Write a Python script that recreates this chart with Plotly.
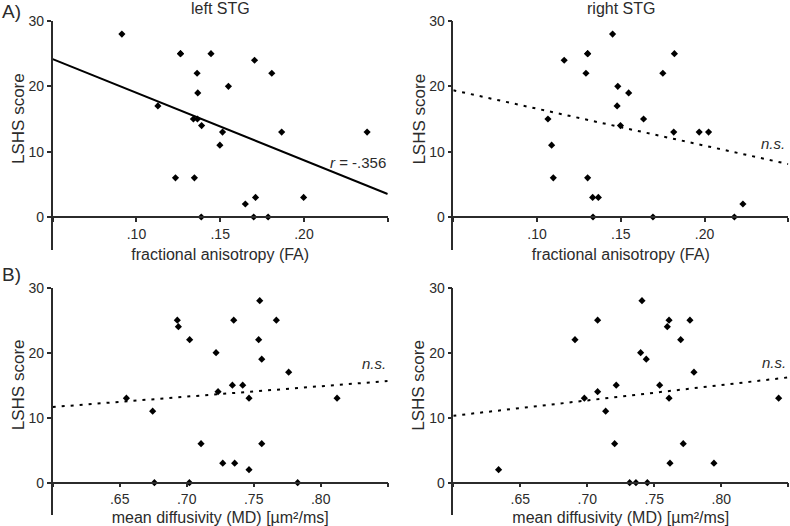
import plotly.graph_objects as go

# ---------------- data ----------------
lshs = [28, 25, 25, 25, 24, 22, 22, 20, 19, 17, 15, 15, 14, 13, 13, 13, 11, 6, 6, 3, 3, 2, 0, 0, 0]

fa_left = [0.0913, 0.1263, 0.1263, 0.1445, 0.1705, 0.1362, 0.1808, 0.1549, 0.1366, 0.1128,
           0.1340, 0.1364, 0.1389, 0.1514, 0.1867, 0.2377, 0.1498, 0.1233, 0.1346, 0.1711,
           0.1998, 0.1650, 0.1387, 0.1700, 0.1786]
fa_right = [0.1451, 0.1302, 0.1302, 0.1820, 0.1162, 0.1292, 0.1751, 0.1482, 0.1547, 0.1478,
            0.1065, 0.1636, 0.1498, 0.1816, 0.1968, 0.2024, 0.1087, 0.1097, 0.1302, 0.1332,
            0.1366, 0.2229, 0.1334, 0.1692, 0.2178]
md_left = [0.7545, 0.6930, 0.7351, 0.7669, 0.6938, 0.7022, 0.7537, 0.7219, 0.7560, 0.7761,
           0.7341, 0.7418, 0.7234, 0.6550, 0.7465, 0.8122, 0.6746, 0.7107, 0.7560, 0.7269,
           0.7358, 0.7465, 0.6759, 0.7020, 0.7828]
md_right = [0.7408, 0.7077, 0.7610, 0.7766, 0.7597, 0.6908, 0.7697, 0.7398, 0.7440, 0.7796,
            0.7216, 0.7540, 0.7077, 0.6978, 0.7610, 0.8428, 0.7137, 0.7204, 0.7716, 0.7617,
            0.7945, 0.6338, 0.7316, 0.7363, 0.7448]

fa_fit_x = [0.05, 0.25]
fa_left_fit_y = [24.17, 3.53]
fa_right_fit_y = [19.4, 8.1]
md_fit_x = [0.60, 0.85]
md_left_fit_y = [11.64, 15.64]
md_right_fit_y = [10.3, 16.2]

fa_tickvals = [0.05, 0.10, 0.15, 0.20, 0.25]
fa_ticktext = ["", ".10", ".15", ".20", ""]
md_tickvals = [0.60, 0.65, 0.70, 0.75, 0.80, 0.85]
md_ticktext = ["", ".65", ".70", ".75", ".80", ""]
y_tickvals = [0, 10, 20, 30]

panel_titles = ["left STG", "right STG"]
fa_title = "fractional anisotropy (FA)"
md_title = "mean diffusivity (MD) [µm²/ms]"
y_title = "LSHS score"

# ---------------- style ----------------
FONT = "Liberation Sans, Arial, sans-serif"
TXT = "#2b2b2b"
LINE = "#2b2b2b"
W, H = 790, 526

def px_x(p):
    return p / W

def px_y(p):
    return 1 - p / H

# horizontal domains (pixels)
col_dom = [(52.7, 387.7), (453.3, 788.3)]
# rows: (pixel of y=30, pixel of y=-5, pixel of y=0)
row_dom = [(21.0, 249.7, 217.0), (287.7, 515.2, 482.7)]

fig = go.Figure()

panels = [
    (fa_left, fa_fit_x, fa_left_fit_y, "solid", 0, 0),
    (fa_right, fa_fit_x, fa_right_fit_y, "3px,6px", 0, 1),
    (md_left, md_fit_x, md_left_fit_y, "3px,6px", 1, 0),
    (md_right, md_fit_x, md_right_fit_y, "3px,6px", 1, 1),
]

layout = {}
annotations = []
for i, (xs, fx, fy, dash, r, c) in enumerate(panels):
    n = i + 1
    xa = "x" if n == 1 else f"x{n}"
    ya = "y" if n == 1 else f"y{n}"
    fig.add_trace(go.Scatter(x=fx, y=fy, mode="lines", xaxis=xa, yaxis=ya,
                             line=dict(color="black", width=2, dash=dash),
                             showlegend=False, hoverinfo="skip"))
    fig.add_trace(go.Scatter(x=xs, y=lshs, mode="markers", xaxis=xa, yaxis=ya,
                             marker=dict(symbol="diamond", size=5.5, color="black",
                                         line=dict(width=0)),
                             cliponaxis=False, showlegend=False))
    x0, x1 = col_dom[c]
    ytop, ybot, yzero = row_dom[r]
    if r == 0:
        rng, tv, tt, ttl = [0.05, 0.25], fa_tickvals, fa_ticktext, fa_title
    else:
        rng, tv, tt, ttl = [0.60, 0.85], md_tickvals, md_ticktext, md_title
    layout[("xaxis" if n == 1 else f"xaxis{n}")] = dict(
        domain=[px_x(x0), px_x(x1)], anchor="free", position=px_y(yzero),
        range=rng, tickvals=tv, ticktext=tt, showgrid=False, zeroline=False,
        showline=True, linecolor=LINE, linewidth=1.5, ticks="outside", ticklen=4,
        tickwidth=1.5, tickcolor=LINE, tickfont=dict(size=14, color=TXT, family=FONT),
        title=dict(text=ttl, font=dict(size=16, color=TXT, family=FONT), standoff=7),
        automargin=False, fixedrange=True,
    )
    layout[("yaxis" if n == 1 else f"yaxis{n}")] = dict(
        domain=[px_y(ybot), px_y(ytop)], anchor=xa, range=[-5, 30],
        tickvals=y_tickvals, showgrid=False, zeroline=False, showline=True,
        linecolor=LINE, linewidth=1.5, ticks="outside", ticklen=4, tickwidth=1.5,
        tickcolor=LINE, tickfont=dict(size=14, color=TXT, family=FONT),
        automargin=False, fixedrange=True,
    )
    # y-axis title, centred on the 0-30 range
    annotations.append(dict(text=y_title, textangle=-90, xref="paper", yref="paper",
                            x=px_x(x0 - 34.7), y=px_y((ytop + yzero) / 2),
                            xanchor="center", yanchor="middle", showarrow=False,
                            font=dict(size=17, color=TXT, family=FONT)))

# column titles
for c, t in enumerate(panel_titles):
    x0, x1 = col_dom[c]
    annotations.append(dict(text=t, xref="paper", yref="paper", x=px_x((x0 + x1) / 2),
                            y=px_y(8), xanchor="center", yanchor="middle", showarrow=False,
                            font=dict(size=16, color=TXT, family=FONT)))

# panel letters
annotations.append(dict(text="A)", xref="paper", yref="paper", x=0, y=px_y(12),
                        xanchor="left", yanchor="middle", showarrow=False,
                        font=dict(size=19, color=TXT, family=FONT)))
annotations.append(dict(text="B)", xref="paper", yref="paper", x=0, y=px_y(274),
                        xanchor="left", yanchor="middle", showarrow=False,
                        font=dict(size=19, color=TXT, family=FONT)))

# statistics labels (data coordinates)
stat_labels = [("x", "y", 0.25, 8.3, "<i>r</i> = -.356"),
               ("x2", "y2", 0.2495, 11.3, "<i>n.s.</i>"),
               ("x3", "y3", 0.85, 18.4, "<i>n.s.</i>"),
               ("x4", "y4", 0.8495, 18.5, "<i>n.s.</i>")]
for xr, yr, xv, yv, t in stat_labels:
    annotations.append(dict(text=t, xref=xr, yref=yr, x=xv, y=yv, xanchor="right",
                            yanchor="middle", showarrow=False,
                            font=dict(size=15, color=TXT, family=FONT)))

fig.update_layout(
    width=W, height=H, margin=dict(l=0, r=0, t=0, b=0),
    paper_bgcolor="white", plot_bgcolor="white",
    font=dict(family=FONT, color=TXT), annotations=annotations,
    showlegend=False, **layout,
)

# the page's default 8px body margin would shift the 790x526 figure; remove it
fig.write_html("out.html", config={"displayModeBar": False},
               post_script="document.body.style.margin='0';document.body.style.padding='0';")
